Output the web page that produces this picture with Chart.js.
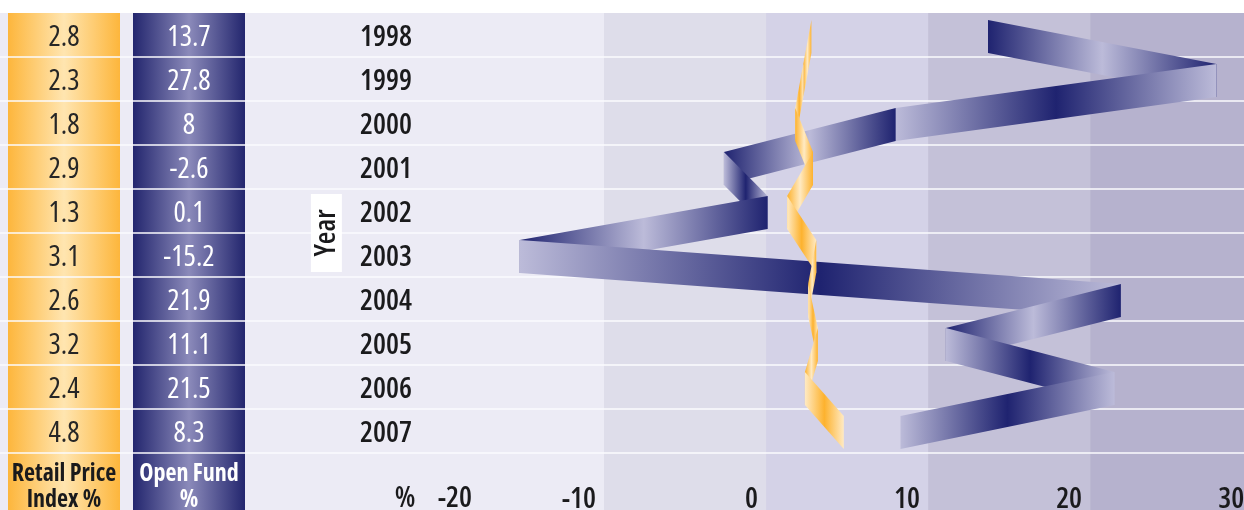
<!DOCTYPE html>
<html>
<head>
<meta charset="utf-8">
<script src="https://cdn.jsdelivr.net/npm/chart.js@4.4.1/dist/chart.umd.min.js"></script>
<style>
  html, body { margin: 0; padding: 0; background: #fff; overflow: hidden; }
  #wrap { width: 1244px; height: 510px; position: relative; }
</style>
</head>
<body>
<div id="wrap"><canvas id="chart" width="1244" height="510"></canvas></div>
<script>
// ---- data ----
const years = ['1998', '1999', '2000', '2001', '2002', '2003', '2004', '2005', '2006', '2007'];
const retailPriceIndex = [2.8, 2.3, 1.8, 2.9, 1.3, 3.1, 2.6, 3.2, 2.4, 4.8];
const openFund = [13.7, 27.8, 8, -2.6, 0.1, -15.2, 21.9, 11.1, 21.5, 8.3];
const xTickValues = [-20, -10, 0, 10, 20, 30];
const rpiHeader = ['Retail Price', 'Index %'];
const fundHeader = ['Open Fund', '%'];

// ---- styling ----
const FAMILY = '"Open Sans", "DejaVu Sans Condensed", sans-serif';
const W_LABEL = '600 condensed';        // weight + stretch for axis text
const W_VALUE = '400 condensed';        // table values
const W_HEAD = '700 semi-condensed';    // column headers
const SIZE = 29;
const TEXT = '#1a1a1c';
const bandFills = ['#ecebf5', '#deddea', '#d4d2e7', '#c4c1d8', '#b6b2ce'];
const bandEdges = [-10, 0, 10, 20];
// per-segment shading of each ribbon: 'dld' = dark-light-dark, 'ldl' = light-dark-light
const fundShading = ['dld', 'ldl', 'dld', 'ldl', 'dld', 'ldl', 'dld', 'ldl', 'ldl'];
const rpiShading = ['dld', 'ldl', 'dld', 'dld', 'ldl', 'dld', 'ldl', 'dld', 'ldl'];
const fundColors = { dark: '#1f2370', light: '#bcbbd9' };
const rpiColors = { dark: '#fdb22e', light: '#ffeac3' };
const RIBBON_UP = 15, RIBBON_DOWN = 18;

const rpiCol = { x: 8, w: 112, edge: '#fdb63c', mid: '#ffe5b0', text: '#262626' };
const fundCol = { x: 133, w: 112, edge: '#23266e', mid: '#8b8aba', text: '#ffffff' };

function rowBounds(y) {
  const n = years.length;
  const step = y.getPixelForValue(1) - y.getPixelForValue(0);
  const b = [];
  for (let i = 0; i <= n; i++) b.push(y.getPixelForValue(0) - step / 2 + i * step);
  return b;
}

function fillColumn(ctx, col, top, bottom) {
  const g = ctx.createLinearGradient(col.x, 0, col.x + col.w, 0);
  g.addColorStop(0, col.edge);
  g.addColorStop(0.5, col.mid);
  g.addColorStop(1, col.edge);
  ctx.fillStyle = g;
  ctx.fillRect(col.x, top, col.w, bottom - top);
}

function zeroPadding(s) {
  s.paddingTop = 0; s.paddingBottom = 0; s.paddingLeft = 0; s.paddingRight = 0;
}

const panelPlugin = {
  id: 'panel',
  beforeDraw(chart) {
    const { ctx, chartArea, scales: { x, y } } = chart;
    const W = chart.width, H = chart.height;
    const top = chartArea.top;
    ctx.save();
    ctx.fillStyle = '#ffffff';
    ctx.fillRect(0, 0, W, H);
    // vertical shading bands split at the x gridlines
    const edges = [0, ...bandEdges.map(v => x.getPixelForValue(v)), W];
    for (let i = 0; i < bandFills.length; i++) {
      ctx.fillStyle = bandFills[i];
      ctx.fillRect(edges[i], top, edges[i + 1] - edges[i], H - top);
    }
    // table columns
    fillColumn(ctx, rpiCol, top, H);
    fillColumn(ctx, fundCol, top, H);
    // row separators
    const b = rowBounds(y);
    ctx.strokeStyle = '#fbfbfe';
    ctx.lineWidth = 1.6;
    for (let i = 1; i < b.length; i++) {
      ctx.beginPath();
      ctx.moveTo(0, b[i]);
      ctx.lineTo(W, b[i]);
      ctx.stroke();
    }
    // white plate behind the rotated axis title
    const tOpts = y.options.title;
    const cx = y.left + tOpts.padding.top + tOpts.font.size * 1.2 / 2;
    const cy = (chartArea.top + chartArea.bottom) / 2;
    ctx.fillStyle = '#ffffff';
    ctx.fillRect(cx - 15.5, cy - 39, 31, 78);
    ctx.restore();
  }
};

function drawRibbon(ctx, pts, shading, colors) {
  for (let i = 0; i < pts.length - 1; i++) {
    const a = pts[i], b = pts[i + 1];
    let x0 = a.x, x1 = b.x;
    if (Math.abs(x1 - x0) < 3) x1 = x0 + (x1 >= x0 ? 3 : -3);
    const g = ctx.createLinearGradient(x0, 0, x1, 0);
    const ends = shading[i] === 'dld' ? colors.dark : colors.light;
    const mid = shading[i] === 'dld' ? colors.light : colors.dark;
    g.addColorStop(0, ends);
    g.addColorStop(0.5, mid);
    g.addColorStop(1, ends);
    ctx.fillStyle = g;
    ctx.beginPath();
    ctx.moveTo(a.x, a.y - RIBBON_UP);
    ctx.lineTo(b.x, b.y - RIBBON_UP);
    ctx.lineTo(b.x, b.y + RIBBON_DOWN);
    ctx.lineTo(a.x, a.y + RIBBON_DOWN);
    ctx.closePath();
    ctx.fill();
  }
}

const ribbonPlugin = {
  id: 'ribbons',
  afterDatasetsDraw(chart) {
    const ctx = chart.ctx;
    ctx.save();
    const fundPts = chart.getDatasetMeta(0).data.map(p => ({ x: p.x, y: p.y }));
    const rpiPts = chart.getDatasetMeta(1).data.map(p => ({ x: p.x, y: p.y }));
    drawRibbon(ctx, fundPts, fundShading, fundColors);
    drawRibbon(ctx, rpiPts, rpiShading, rpiColors);
    ctx.restore();
  }
};

const tablePlugin = {
  id: 'table',
  afterDraw(chart) {
    const { ctx, scales: { x, y } } = chart;
    ctx.save();
    ctx.textAlign = 'center';
    ctx.textBaseline = 'middle';
    ctx.font = `${W_VALUE} ${SIZE}px ${FAMILY}`;
    years.forEach((yr, i) => {
      const py = y.getPixelForValue(i) + 3;
      ctx.fillStyle = rpiCol.text;
      ctx.fillText(String(retailPriceIndex[i]), rpiCol.x + rpiCol.w / 2, py);
      ctx.fillStyle = fundCol.text;
      ctx.fillText(String(openFund[i]), fundCol.x + fundCol.w / 2, py);
    });
    // column headers in the footer row
    const b = rowBounds(y);
    const f0 = b[b.length - 1];
    ctx.font = `${W_HEAD} 24px ${FAMILY}`;
    ctx.fillStyle = TEXT;
    ctx.fillText(rpiHeader[0], rpiCol.x + rpiCol.w / 2, f0 + 21);
    ctx.fillText(rpiHeader[1], rpiCol.x + rpiCol.w / 2, f0 + 47);
    ctx.fillStyle = '#ffffff';
    ctx.fillText(fundHeader[0], fundCol.x + fundCol.w / 2, f0 + 21);
    ctx.fillText(fundHeader[1], fundCol.x + fundCol.w / 2, f0 + 47);
    // unit marker and the first tick label of the value axis
    ctx.font = `${W_LABEL} ${SIZE}px ${FAMILY}`;
    ctx.fillStyle = TEXT;
    ctx.fillText('%', 405, f0 + 46);
    ctx.textAlign = 'right';
    ctx.fillText(String(xTickValues[0]), x.getPixelForValue(xTickValues[0]) + 30, f0 + 46);
    ctx.restore();
  }
};

new Chart(document.getElementById('chart'), {
  type: 'line',
  data: {
    labels: years,
    datasets: [
      { label: 'Open Fund %', data: openFund, showLine: false, pointRadius: 0, pointHoverRadius: 0 },
      { label: 'Retail Price Index %', data: retailPriceIndex, showLine: false, pointRadius: 0, pointHoverRadius: 0 }
    ]
  },
  options: {
    indexAxis: 'y',
    responsive: false,
    animation: false,
    events: [],
    layout: { padding: { top: 13, left: 0, right: 0, bottom: 0 } },
    plugins: { legend: { display: false }, tooltip: { enabled: false } },
    scales: {
      x: {
        type: 'linear',
        position: 'bottom',
        min: -20,
        max: 29.5,
        grid: { display: false, drawTicks: false },
        border: { display: false },
        afterBuildTicks: s => { s.ticks = xTickValues.map(v => ({ value: v })); },
        afterFit: s => { s.height = 57; zeroPadding(s); },
        ticks: {
          align: 'end',
          labelOffset: -8,
          padding: 29,
          autoSkip: false,
          maxRotation: 0,
          font: { family: FAMILY, size: SIZE, weight: W_LABEL },
          color: TEXT,
          callback: v => (v === xTickValues[0] ? '' : String(v))
        }
      },
      y: {
        type: 'category',
        offset: true,
        grid: { display: false, drawTicks: false },
        border: { display: false },
        afterFit: s => { s.width = 442; zeroPadding(s); },
        ticks: { padding: 30, labelOffset: 3, font: { family: FAMILY, size: SIZE, weight: W_LABEL }, color: TEXT },
        title: {
          display: true,
          text: 'Year',
          font: { family: FAMILY, size: SIZE, weight: W_LABEL },
          color: TEXT,
          padding: { top: 309, bottom: 0 }
        }
      }
    }
  },
  plugins: [panelPlugin, ribbonPlugin, tablePlugin]
});
</script>
</body>
</html>
